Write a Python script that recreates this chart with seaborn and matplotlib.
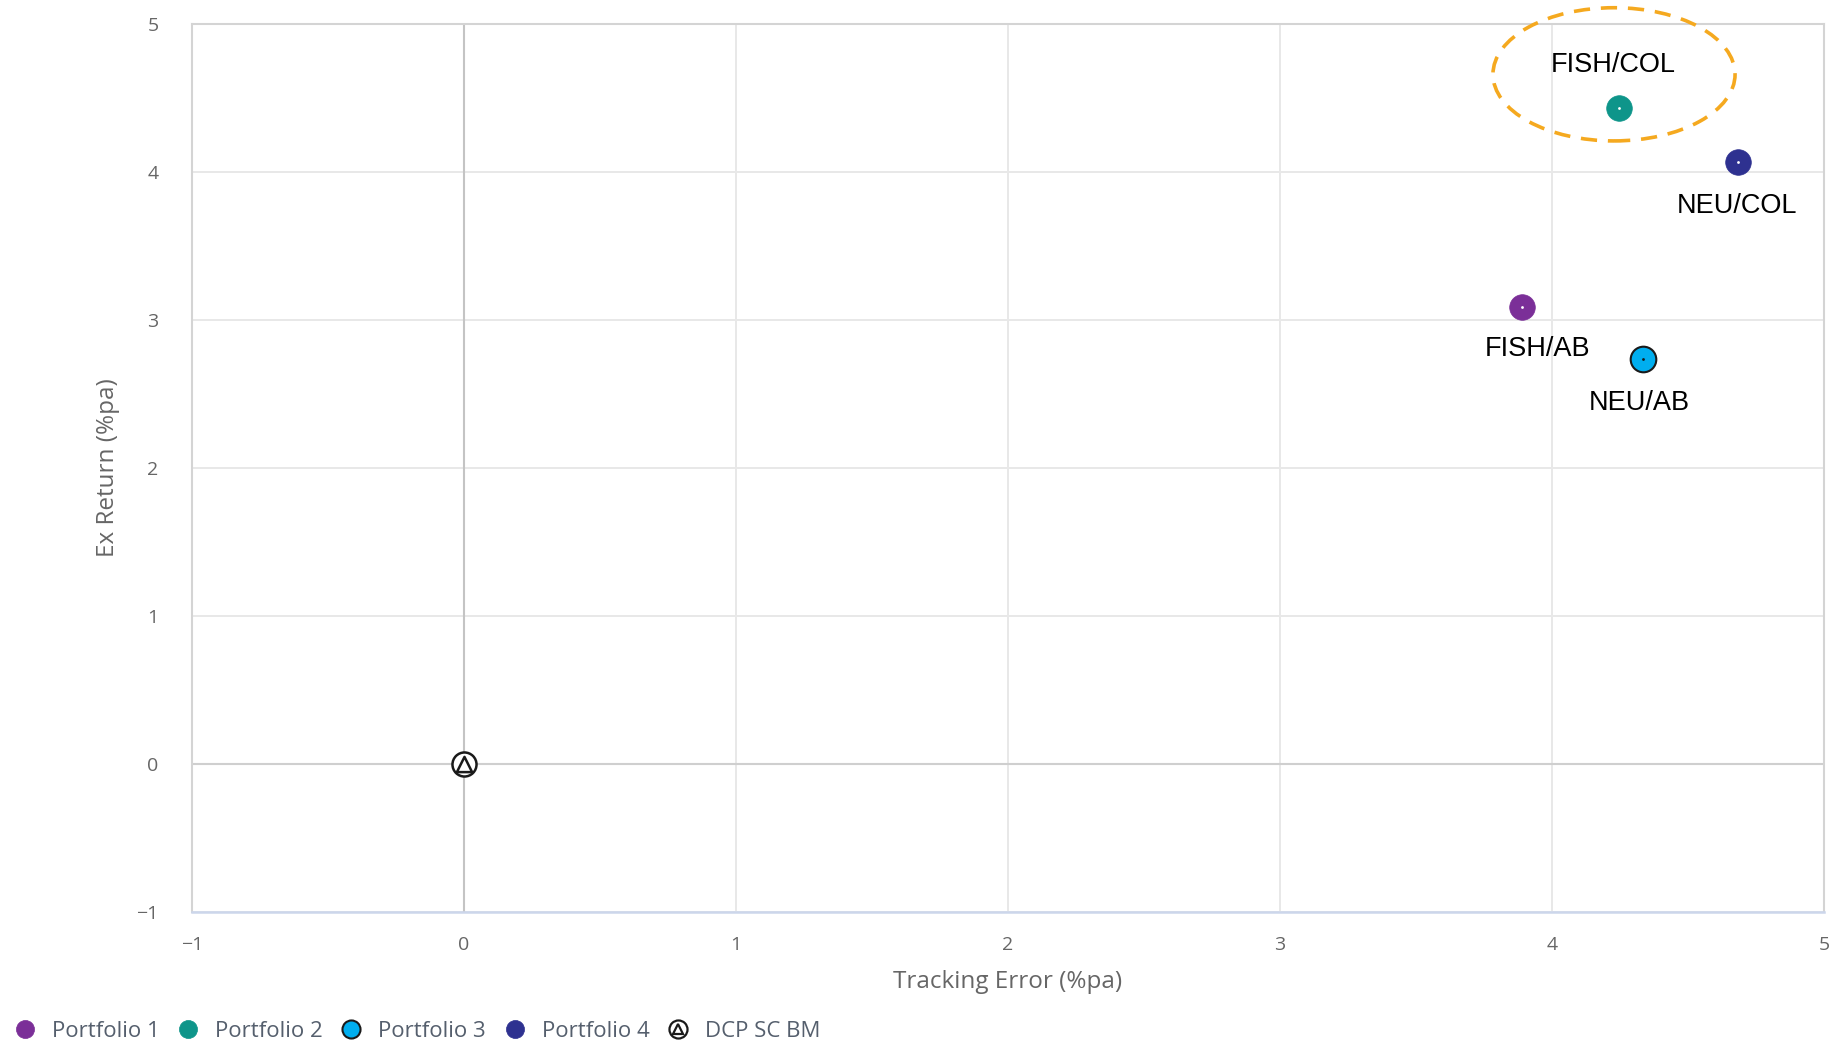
import matplotlib
matplotlib.use("Agg")
import matplotlib.pyplot as plt
from matplotlib.lines import Line2D
from matplotlib.patches import Ellipse
from matplotlib.legend_handler import HandlerTuple
import seaborn as sns
import pandas as pd

# ---- data ----
series = ["Portfolio 1", "Portfolio 2", "Portfolio 3", "Portfolio 4", "DCP SC BM"]
tracking_error = [3.89, 4.245, 4.335, 4.685, 0.0]
ex_return = [3.09, 4.435, 2.735, 4.07, 0.0]
point_labels = ["FISH/AB", "FISH/COL", "NEU/AB", "NEU/COL", ""]
x_ticks = [-1, 0, 1, 2, 3, 4, 5]
y_ticks = [-1, 0, 1, 2, 3, 4, 5]

colors = {"Portfolio 1": "#7B2F98", "Portfolio 2": "#0E958A",
          "Portfolio 3": "#00AEEF", "Portfolio 4": "#2E3190",
          "DCP SC BM": "#ffffff"}
edges = {"Portfolio 1": "#7B2F98", "Portfolio 2": "#0E958A",
         "Portfolio 3": "#1a1a1a", "Portfolio 4": "#2E3190",
         "DCP SC BM": "#1a1a1a"}

df = pd.DataFrame({"series": series, "x": tracking_error, "y": ex_return,
                   "label": point_labels})

sns.set_theme(style="white")
plt.rcParams["font.family"] = ["Open Sans", "DejaVu Sans"]

fig = plt.figure(figsize=(18.35, 10.42), dpi=100)
ax = fig.add_axes([192 / 1835, 1 - 912 / 1042, (1824 - 192) / 1835, (912 - 24) / 1042])

ax.set_xlim(-1, 5)
ax.set_ylim(-1, 5)
ax.set_xticks(x_ticks)
ax.set_yticks(y_ticks)
ax.set_xticklabels(["\u22121" if t < 0 else str(t) for t in x_ticks])
ax.set_yticklabels(["\u22121" if t < 0 else str(t) for t in y_ticks])

ax.grid(True, color="#e8e8e8", linewidth=1.4, zorder=0)
ax.set_axisbelow(True)
ax.axvline(0, color="#c4c4c4", linewidth=1.5, zorder=1)
ax.axhline(0, color="#cfcfcf", linewidth=1.5, zorder=1)

for side in ["top", "right", "left"]:
    ax.spines[side].set_color("#d4d4d4")
    ax.spines[side].set_linewidth(1.5)
ax.spines["bottom"].set_color("#ccd6eb")
ax.spines["bottom"].set_linewidth(1.8)

ax.tick_params(axis="x", length=11, width=1.5, color="#ccd6eb", pad=6,
               labelsize=14, labelcolor="#666666")
ax.tick_params(axis="y", length=0, pad=24, labelsize=14, labelcolor="#666666")

# scatter points
for s in series:
    sub = df[df["series"] == s]
    if s == "DCP SC BM":
        sns.scatterplot(data=sub, x="x", y="y", ax=ax, marker="o", s=300,
                        color="#ffffff", edgecolor="#1a1a1a", linewidth=1.8,
                        legend=False, zorder=4, clip_on=False)
        sns.scatterplot(data=sub, x="x", y="y", ax=ax, marker="^", s=120,
                        color="#ffffff", edgecolor="#1a1a1a", linewidth=1.8,
                        legend=False, zorder=5, clip_on=False)
    else:
        sns.scatterplot(data=sub, x="x", y="y", ax=ax, marker="o", s=340,
                        color=colors[s], edgecolor=edges[s],
                        linewidth=1.5 if s == "Portfolio 3" else 0.5,
                        legend=False, zorder=4)
        dot = "#1a1a1a" if s == "Portfolio 3" else "#ffffff"
        sns.scatterplot(data=sub, x="x", y="y", ax=ax, marker="o", s=4,
                        color=dot, linewidth=0, legend=False, zorder=5)

# point labels
label_pos = {"FISH/AB": (3.945, 2.805), "FISH/COL": (4.225, 4.725),
             "NEU/AB": (4.32, 2.44), "NEU/COL": (4.68, 3.77)}
for lab, (lx, ly) in label_pos.items():
    ax.text(lx, ly, lab, ha="center", va="center", fontsize=19.5,
            color="#000000", family=["Liberation Sans", "DejaVu Sans"])

# highlight ellipse
ell = Ellipse((4.228, 4.66), width=0.89, height=0.90, fill=False,
              edgecolor="#F5A91F", linewidth=2.6, linestyle=(0, (4.5, 3)),
              clip_on=False, zorder=3)
ax.add_patch(ell)

ax.set_xlabel("Tracking Error (%pa)", fontsize=17.5, color="#666666", labelpad=12)
ax.set_ylabel("Ex Return (%pa)", fontsize=17.5, color="#666666", labelpad=12)

# legend
handles = []
for s in series[:4]:
    handles.append(Line2D([], [], marker="o", linestyle="", markersize=13,
                          markerfacecolor=colors[s], markeredgecolor=edges[s],
                          markeredgewidth=1.5 if s == "Portfolio 3" else 0.5))
bm = (Line2D([], [], marker="o", linestyle="", markersize=13,
             markerfacecolor="white", markeredgecolor="#1a1a1a", markeredgewidth=1.6),
      Line2D([], [], marker="^", linestyle="", markersize=7,
             markerfacecolor="white", markeredgecolor="#1a1a1a", markeredgewidth=1.6))
handles.append(bm)
leg = fig.legend(handles, series, loc="lower left", bbox_to_anchor=(-0.004, -0.019),
                 ncol=5, frameon=False, fontsize=16, handletextpad=0.66,
                 columnspacing=0.74, handlelength=1.1,
                 handler_map={tuple: HandlerTuple(ndivide=1, pad=0)})
for t in leg.get_texts():
    t.set_color("#555f6d")

fig.savefig("out.png", dpi=100)
